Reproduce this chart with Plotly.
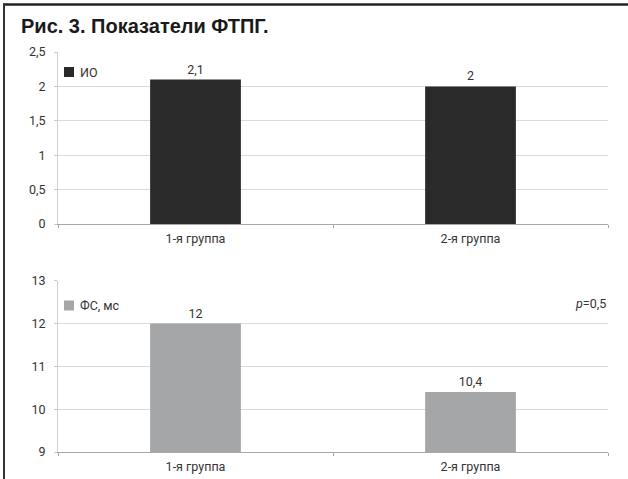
import plotly.graph_objects as go

groups = ["1-я группа", "2-я группа"]
io_values = [2.1, 2.0]
fs_values = [12.0, 10.4]
io_name = "ИО"
fs_name = "ФС, мс"
title_text = "Рис. 3. Показатели ФТПГ."
p_text = "<i>p</i>=0,5"

W, H = 628, 479
FONT = "Roboto, Liberation Sans, Arial, sans-serif"
FS = 12.5
TXT = "#333333"

def px_x(x):
    return x / W

def px_y(y):
    return (H - y) / H

fig = go.Figure()
fig.add_trace(go.Bar(
    x=groups, y=io_values, name=io_name, marker=dict(color="#2a2a2a", line=dict(width=0)),
    width=0.33, texttemplate="%{y:,.1~f}", textposition="outside",
    textfont=dict(size=FS, color=TXT, family=FONT), cliponaxis=False,
    xaxis="x", yaxis="y", showlegend=False))
fig.add_trace(go.Bar(
    x=groups, y=fs_values, name=fs_name, marker=dict(color="#a5a6a8", line=dict(width=0)),
    width=0.33, texttemplate="%{y:,.1~f}", textposition="outside",
    textfont=dict(size=FS, color=TXT, family=FONT), cliponaxis=False,
    xaxis="x2", yaxis="y2", showlegend=False))

axis_common = dict(showgrid=False, showline=True, linecolor="#a8a8a8", linewidth=1,
                   ticks="outside", tickcolor="#a8a8a8", ticklen=3, tickson="boundaries",
                   ticklabelstandoff=3,
                   tickfont=dict(size=FS, color=TXT, family=FONT))
yaxis_common = dict(showgrid=True, gridcolor="#dadada", gridwidth=1, showline=True,
                    linecolor="#d0d0d0", ticks="outside", tickcolor="#c8c8c8", ticklen=3,
                    ticklabelstandoff=6, zeroline=False,
                    tickfont=dict(size=FS, color=TXT, family=FONT))

def legend_items(y_center, name, color):
    shape = dict(type="rect", xref="paper", yref="paper",
                 x0=px_x(64), x1=px_x(74), y0=px_y(y_center + 5), y1=px_y(y_center - 5),
                 fillcolor=color, line=dict(width=0))
    ann = dict(text=name, x=px_x(78), y=px_y(y_center), xref="paper", yref="paper",
               xanchor="left", yanchor="middle", showarrow=False,
               font=dict(size=FS, color=TXT, family=FONT))
    return shape, ann

s1, a1 = legend_items(72, io_name, "#2a2a2a")
s2, a2 = legend_items(305.5, fs_name, "#a5a6a8")

fig.update_layout(
    width=W, height=H, margin=dict(l=0, r=0, t=0, b=0, autoexpand=False),
    paper_bgcolor="white", plot_bgcolor="white",
    separators=", ",
    font=dict(family=FONT, size=FS, color=TXT),
    showlegend=False,
    xaxis=dict(domain=[px_x(58), px_x(608)], anchor="y", **axis_common),
    yaxis=dict(domain=[px_y(224), px_y(52)], anchor="x", range=[0, 2.5], dtick=0.5,
               tickformat=".1~f", **yaxis_common),
    xaxis2=dict(domain=[px_x(58), px_x(608)], anchor="y2", **axis_common),
    yaxis2=dict(domain=[px_y(452), px_y(280.7)], anchor="x2", range=[9, 13], dtick=1,
                **yaxis_common),
    annotations=[
        dict(text="<b>" + title_text + "</b>", x=px_x(19), y=px_y(25.5), xref="paper", yref="paper",
             xanchor="left", yanchor="middle", showarrow=False,
             font=dict(size=20, color="#1a1a1a", family="Liberation Sans, Arial, sans-serif")),
        dict(text=p_text, x=px_x(608), y=px_y(303), xref="paper", yref="paper",
             xanchor="right", yanchor="middle", showarrow=False,
             font=dict(size=FS, color=TXT, family=FONT)),
        a1, a2,
    ],
    shapes=[
        dict(type="line", xref="paper", yref="paper", x0=px_x(3), x1=1, y0=px_y(4.5), y1=px_y(4.5),
             line=dict(color="#222222", width=2.5), layer="above"),
        dict(type="line", xref="paper", yref="paper", x0=px_x(4), x1=px_x(4), y0=px_y(3.5), y1=0,
             line=dict(color="#333333", width=2), layer="above"),
        s1, s2,
    ],
)

fig.write_html(
    "out.html", config={"displayModeBar": False},
    post_script=("document.body.style.margin='0px';"
                 "document.body.style.overflow='hidden';"
                 "document.documentElement.style.overflow='hidden';"))
